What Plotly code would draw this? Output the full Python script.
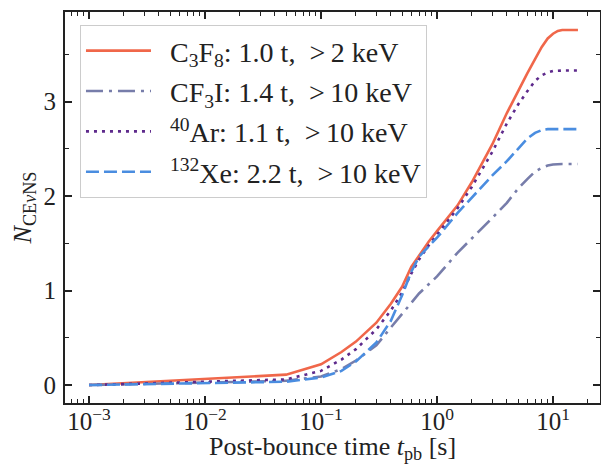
import plotly.graph_objects as go

# post-bounce time [s]
t_pb = [0.001, 0.05, 0.1, 0.15, 0.2, 0.3, 0.4, 0.5, 0.6, 0.7, 0.85, 1.0, 1.5,
        2.0, 3.0, 4.0, 5.0, 6.0, 7.0, 8.0, 9.0, 10.0, 11.0, 12.0, 14.0, 16.4]

n_c3f8 = [0.0, 0.11, 0.22, 0.35, 0.46, 0.66, 0.86, 1.04, 1.25, 1.37, 1.52, 1.63, 1.90,
          2.15, 2.55, 2.88, 3.12, 3.30, 3.45, 3.58, 3.67, 3.72, 3.75, 3.76, 3.76, 3.76]
n_cf3i = [0.0, 0.045, 0.09, 0.17, 0.26, 0.42, 0.61, 0.76, 0.87, 0.97, 1.07, 1.15, 1.40,
          1.55, 1.77, 1.93, 2.08, 2.18, 2.26, 2.30, 2.325, 2.335, 2.34, 2.34, 2.34, 2.34]
n_ar = [0.0, 0.06, 0.15, 0.27, 0.38, 0.59, 0.79, 0.98, 1.18, 1.33, 1.48, 1.59, 1.87,
        2.10, 2.47, 2.77, 2.97, 3.11, 3.22, 3.28, 3.31, 3.325, 3.33, 3.33, 3.33, 3.33]
n_xe = [0.0, 0.035, 0.08, 0.15, 0.25, 0.45, 0.68, 0.95, 1.20, 1.36, 1.47, 1.56, 1.82,
        1.99, 2.22, 2.37, 2.50, 2.61, 2.67, 2.70, 2.71, 2.71, 2.71, 2.71, 2.71, 2.71]

NB = "\u00a0"
TH = "\u2009"
labels = [
    NB * 2 + "C<sub>3</sub>F<sub>8</sub>: 1.0 t," + NB * 2 + ">" + TH + "2 keV",
    NB * 2 + "CF<sub>3</sub>I: 1.4 t," + NB * 2 + ">" + TH + "10 keV",
    NB * 2 + "<sup>40</sup>Ar: 1.1 t," + NB * 2 + ">" + TH + "10 keV",
    NB * 2 + "<sup>132</sup>Xe: 2.2 t," + NB * 2 + ">" + TH + "10 keV",
]
x_tickvals = [1e-3, 1e-2, 1e-1, 1e0, 1e1]
x_ticktext = ["10<sup>−3</sup>", "10<sup>−2</sup>", "10<sup>−1</sup>", "10<sup>0</sup>", "10<sup>1</sup>"]
y_tickvals = [0, 1, 2, 3]

series = [n_c3f8, n_cf3i, n_ar, n_xe]
colors = ["#F0674A", "#777DAA", "#5E2A8C", "#4A8DE0"]
dashes = ["solid", "17px,6px,3px,6px", "3px,5px", "13px,5px"]

FONT = "Liberation Serif"
TXT = "#222222"

fig = go.Figure()
for i, (y, lab, c, d) in enumerate(zip(series, labels, colors, dashes)):
    fig.add_trace(go.Scatter(x=t_pb, y=y, mode="lines", name=lab, legendgroup=f"g{i}",
                             line=dict(color=c, width=2.6, dash=d)))

fig.update_layout(
    width=601, height=456,
    margin=dict(l=57, r=9, t=4, b=61),
    paper_bgcolor="white", plot_bgcolor="white",
    font=dict(family=FONT, size=25, color=TXT),
    legend=dict(x=0.028, y=0.967, xanchor="left", yanchor="top",
                bgcolor="rgba(255,255,255,0.85)", bordercolor="#cccccc", borderwidth=1,
                font=dict(family=FONT, size=28, color=TXT),
                itemwidth=65, tracegroupgap=1),
)
fig.update_xaxes(
    type="log", range=[-3.207, 1.405], automargin=False,
    tickvals=x_tickvals, ticktext=x_ticktext,
    ticks="inside", ticklen=7, tickwidth=1.5, tickcolor=TXT,
    minor=dict(ticks="inside", ticklen=4, tickwidth=1.2, tickcolor=TXT, dtick="D1", showgrid=False),
    showline=True, linewidth=2, linecolor=TXT, mirror="allticks",
    showgrid=False, zeroline=False,
    tickfont=dict(size=25), ticklabelstandoff=-5,
    title=dict(text="Post-bounce time <i>t</i><sub>pb</sub> [s]", font=dict(size=26), standoff=5),
)
fig.update_yaxes(
    range=[-0.19, 3.95], automargin=False,
    tickvals=y_tickvals,
    ticks="inside", ticklen=7, tickwidth=1.5, tickcolor=TXT,
    minor=dict(ticks="inside", ticklen=4, tickwidth=1.2, tickcolor=TXT, dtick=0.5, showgrid=False),
    showline=True, linewidth=2, linecolor=TXT, mirror="allticks",
    showgrid=False, zeroline=False,
    tickfont=dict(size=25), ticklabelstandoff=2,
    title=dict(text="<i>N</i><sub>CE<i>ν</i>NS</sub>", font=dict(size=26), standoff=9),
)

fig.write_html("out.html")
